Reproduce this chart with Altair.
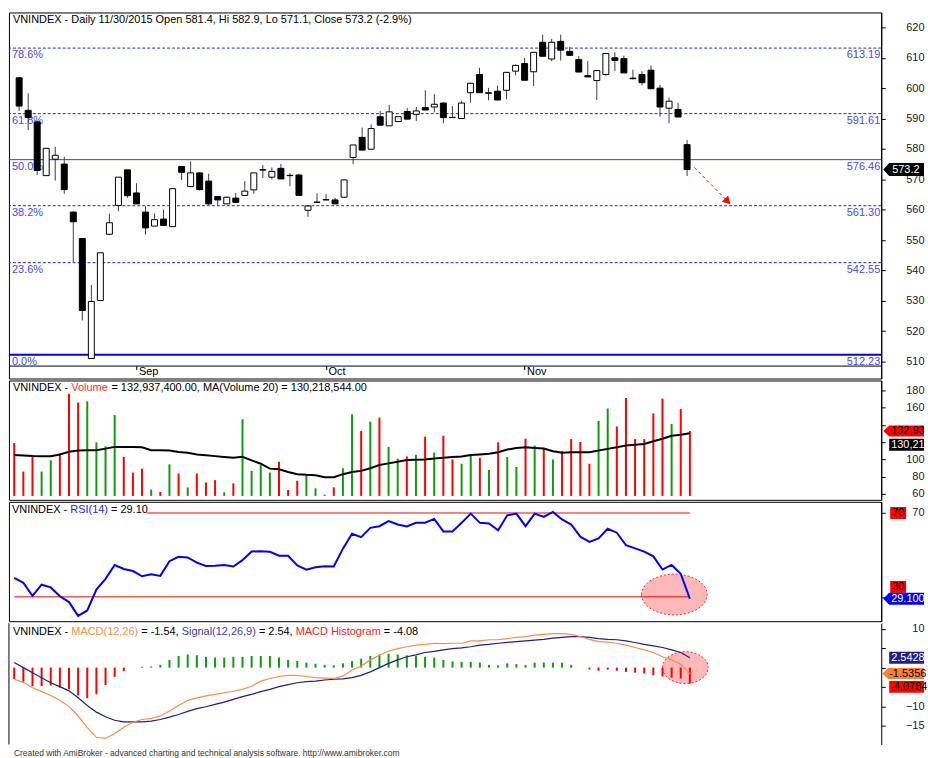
import altair as alt
import pandas as pd

FONT = "Liberation Sans"

# ---------------- data ----------------
opens = [603.4, 592.7, 588.9, 571.2, 576.6, 575.0, 559.2, 550.5, 511.0, 530.1,
         551.9, 561.4, 573.1, 565.5, 559.2, 554.6, 556.9, 554.4, 574.2, 567.6,
         572.1, 569.4, 564.3, 561.9, 563.8, 564.7, 566.5, 573.0, 570.7, 573.6,
         571.3, 571.4, 559.8, 562.4, 563.2, 563.2, 564.1, 577.2, 583.8, 579.9,
         590.6, 587.6, 589.0, 592.3, 591.4, 593.6, 593.8, 595.1, 590.4, 590.0,
         598.5, 604.5, 598.3, 599.0, 599.3, 605.6, 608.1, 605.4, 615.1, 609.6,
         615.4, 612.1, 609.4, 604.1, 602.5, 604.5, 610.0, 609.7, 603.3, 604.5,
         605.9, 600.0, 593.4, 593.0, 581.4]
highs = [603.6, 598.3, 589.2, 580.2, 580.7, 577.4, 559.4, 550.6, 535.2, 545.8,
         558.7, 570.7, 573.1, 568.7, 561.1, 558.7, 560.0, 566.9, 574.4, 575.9,
         572.3, 571.8, 564.5, 564.3, 565.5, 569.4, 572.1, 574.7, 573.9, 575.0,
         572.0, 571.8, 561.2, 565.4, 565.2, 563.9, 569.8, 581.3, 587.0, 588.1,
         592.5, 594.5, 590.6, 593.4, 593.8, 599.3, 598.0, 595.3, 594.1, 595.8,
         601.8, 606.7, 600.1, 600.9, 605.2, 607.8, 610.0, 611.8, 617.6, 616.2,
         617.6, 613.6, 610.5, 608.9, 605.8, 611.6, 611.8, 610.7, 606.1, 605.6,
         607.5, 601.1, 596.9, 595.2, 582.9]
lows = [592.5, 586.2, 571.4, 571.2, 569.6, 565.2, 542.8, 523.5, 510.9, 530.1,
        551.6, 559.5, 563.9, 561.9, 551.8, 554.6, 554.8, 554.4, 569.8, 567.4,
        566.3, 561.6, 561.3, 561.9, 562.4, 564.7, 565.2, 570.4, 569.9, 570.1,
        567.7, 564.7, 557.6, 562.3, 563.1, 561.9, 563.9, 575.0, 579.6, 579.9,
        587.8, 587.6, 589.0, 589.8, 589.2, 592.8, 592.0, 588.4, 590.2, 590.0,
        595.2, 598.5, 596.0, 596.1, 596.3, 604.2, 602.5, 600.7, 610.5, 608.8,
        609.1, 610.8, 605.3, 603.6, 596.1, 604.0, 605.6, 605.0, 602.9, 600.9,
        599.8, 590.6, 588.4, 590.5, 571.1]
closes = [594.1, 590.3, 572.9, 580.2, 577.9, 566.6, 556.0, 526.8, 529.8, 545.8,
          555.7, 570.7, 564.6, 561.9, 554.0, 556.7, 554.8, 566.9, 572.3, 572.1,
          566.6, 561.9, 563.2, 564.1, 562.4, 566.1, 572.1, 573.2, 572.6, 570.1,
          571.2, 564.7, 561.2, 562.5, 563.3, 561.9, 569.8, 581.3, 579.6, 586.7,
          587.8, 592.2, 590.6, 589.8, 592.5, 592.8, 594.7, 590.3, 590.3, 595.1,
          601.6, 598.5, 598.5, 596.1, 605.2, 607.5, 602.6, 611.8, 610.5, 615.1,
          612.5, 610.8, 605.3, 603.7, 605.8, 611.4, 609.1, 605.0, 603.1, 601.8,
          599.8, 593.8, 595.7, 590.5, 573.2]
volume_m = [119.0, 85.9, 104.6, 85.9, 98.9, 106.9, 176.2, 165.9, 167.4, 119.8,
            115.2, 151.4, 103.0, 84.8, 89.3, 65.0, 62.3, 94.3, 83.6, 67.6,
            83.6, 73.3, 76.0, 61.9, 72.2, 146.5, 86.7, 93.5, 84.8, 97.3,
            64.6, 75.2, 81.7, 66.5, 59.2, 67.6, 89.7, 152.2, 133.1, 143.8,
            148.4, 114.5, 100.8, 103.4, 105.3, 126.3, 108.0, 127.4, 100.0, 95.0,
            104.6, 101.9, 87.8, 119.8, 102.7, 91.2, 124.0, 116.0, 113.3, 100.0,
            109.5, 123.6, 120.2, 95.0, 144.6, 159.0, 138.1, 171.2, 123.6, 123.6,
            153.3, 170.5, 141.1, 158.3, 132.9374]
vol_ma20 = [105.0, 104.5, 104.0, 103.8, 103.8, 105.7, 108.8, 110.3, 110.5, 110.7,
            112.5, 114.5, 114.5, 114.3, 114.1, 110.7, 110.5, 110.3, 108.5, 107.6,
            105.7, 104.8, 103.8, 102.8, 101.9, 103.0, 98.9, 95.0, 89.3, 88.6,
            85.5, 82.9, 82.1, 81.7, 79.4, 79.4, 82.9, 85.5, 86.7, 89.7,
            93.5, 95.4, 97.3, 99.2, 99.6, 100.0, 101.1, 101.9, 102.7, 103.4,
            105.0, 105.7, 106.5, 108.4, 111.4, 113.3, 114.1, 113.3, 112.6, 109.5,
            107.6, 108.4, 108.4, 108.4, 110.3, 112.2, 114.1, 116.0, 117.1, 117.9,
            121.0, 124.0, 127.4, 128.6, 130.2185]
rsi14 = [39.1, 36.7, 30.5, 35.8, 34.5, 30.3, 27.5, 20.9, 23.5, 33.5,
         38.6, 45.2, 43.3, 42.3, 39.8, 40.8, 40.0, 47.0, 49.1, 48.8,
         46.3, 44.7, 44.8, 45.2, 44.5, 47.5, 51.6, 51.8, 51.5, 49.6,
         49.6, 45.0, 43.0, 44.1, 44.6, 44.5, 53.0, 60.1, 58.5, 62.9,
         63.7, 66.1, 64.5, 63.6, 65.3, 65.4, 67.2, 61.2, 61.2, 65.3,
         69.7, 65.3, 65.0, 61.8, 68.9, 69.7, 63.7, 69.7, 68.1, 70.5,
         66.9, 64.5, 58.7, 56.2, 57.9, 62.5, 60.6, 54.6, 53.1, 51.6,
         49.3, 43.0, 45.2, 41.0, 29.10]
macd_line = [-3.0, -3.8, -5.2, -6.2, -7.2, -8.4, -10.0, -12.5, -15.5, -18.0,
             -18.3, -17.0, -15.4, -14.1, -13.4, -13.1, -12.5, -11.2, -9.8, -8.5,
             -7.8, -7.3, -6.9, -6.5, -6.1, -5.6, -4.8, -3.5, -2.8, -2.3,
             -2.0, -2.0, -2.3, -2.6, -2.7, -2.8, -2.2, -0.6, 0.4, 2.0,
             3.2, 4.3, 4.9, 5.4, 5.8, 6.0, 6.3, 6.2, 6.3, 6.3,
             6.9, 6.9, 7.2, 7.2, 7.5, 7.8, 8.0, 8.4, 8.6, 8.8,
             8.8, 8.6, 8.0, 7.3, 6.7, 6.6, 6.3, 5.8, 5.2, 4.6,
             3.9, 2.8, 2.0, 0.9, -1.5356]
macd_signal = [1.3, 0.0, -1.3, -2.6, -3.9, -4.9, -6.0, -7.8, -9.8, -11.5,
               -12.7, -13.6, -14.0, -14.0, -14.0, -13.8, -13.4, -12.8, -12.1, -11.3,
               -10.6, -10.1, -9.5, -8.9, -8.2, -7.5, -6.9, -6.2, -5.6, -4.9,
               -4.4, -3.9, -3.6, -3.5, -3.2, -3.0, -2.9, -2.6, -2.0, -1.1,
               0.0, 1.1, 2.0, 2.8, 3.3, 3.9, 4.2, 4.6, 4.9, 5.1,
               5.4, 5.8, 6.0, 6.3, 6.5, 6.7, 6.9, 7.1, 7.3, 7.6,
               7.8, 8.0, 8.0, 7.8, 7.5, 7.3, 7.2, 6.9, 6.5, 6.0,
               5.6, 5.2, 4.6, 3.9, 2.5428]
macd_hist = [-3.0, -3.7, -4.8, -4.8, -4.6, -5.2, -5.6, -7.2, -7.9, -6.9,
             -4.5, -2.4, -0.9, 0.0, 0.2, 0.3, 0.7, 2.0, 3.0, 3.4,
             3.2, 2.8, 2.6, 2.6, 2.8, 2.8, 3.0, 3.0, 3.0, 2.6,
             2.0, 1.7, 1.3, 1.0, 0.7, 0.6, 1.1, 1.7, 2.3, 3.0,
             3.4, 3.6, 3.4, 3.2, 3.0, 2.8, 2.6, 2.0, 1.6, 1.5,
             1.5, 1.3, 0.7, 0.6, 1.1, 0.9, 0.7, 1.3, 1.3, 1.3,
             1.3, 0.7, 0.0, -0.5, -0.8, -0.5, -0.8, -1.1, -1.3, -1.5,
             -2.0, -2.3, -2.6, -2.8, -4.0784]

last_volume = 132937400.00
last_ma20 = 130218544.00

month_idx = [13, 34, 56]
month_names = ["Sep", "Oct", "Nov"]

fib_pct = ["0.0%", "23.6%", "38.2%", "50.0%", "61.8%", "78.6%"]
fib_val = [512.23, 542.55, 561.30, 576.46, 591.61, 613.19]
fib_dashed = ["23.6%", "38.2%", "61.8%", "78.6%"]

arrow_x = [74.8, 78.5]
arrow_y = [573.9, 562.7]

rsi_levels = [70, 30]
rsi_level_from = [14.5, 0]
rsi_level_to = [74, 74]

rsi_mark = (72.3, 31.1)
macd_mark = (73.5, 0.0)

price_ticks = [510, 520, 530, 540, 550, 560, 570, 580, 590, 600, 610, 620]
vol_ticks = [60, 80, 100, 120, 140, 160, 180]
macd_ticks = [-15, -10, -5, 0, 5, 10]

# tick labels that sit under the value tags in the original
vol_hidden = [120, 140]
rsi_hidden = [30]
macd_hidden = [-5, 0, 5]

footer = ("Created with AmiBroker - advanced charting and technical analysis "
          "software. http://www.amibroker.com")

# ---------------- helpers ----------------
AW = {' ': 278, '%': 889, '(': 333, ')': 333, ',': 278, '-': 333, '.': 278,
      '/': 278, ':': 278, '=': 584,
      'A': 667, 'B': 667, 'C': 722, 'D': 722, 'E': 667, 'G': 778, 'H': 722,
      'I': 278, 'L': 556, 'M': 833, 'N': 722, 'O': 778, 'R': 722, 'S': 667,
      'V': 667, 'X': 667,
      'a': 556, 'b': 556, 'c': 500, 'd': 556, 'e': 556, 'f': 278, 'g': 556,
      'h': 556, 'i': 222, 'k': 500, 'l': 222, 'm': 833, 'n': 556, 'o': 556,
      'p': 556, 'r': 333, 's': 500, 't': 278, 'u': 556, 'v': 500, 'w': 722,
      'y': 500}


def tw(s, fs=11):
    return sum(AW.get(ch, 556) for ch in s) * fs / 1000.0


W = 877
xs = alt.Scale(domain=[-0.577, 94.96], nice=False, zero=False)


def xnone():
    return alt.X('i:Q', scale=xs, axis=None)


def yaxis(values, hidden=()):
    kw = {}
    if hidden:
        kw['labelExpr'] = "indexof([" + ",".join(str(h) for h in hidden) + "], datum.value) >= 0 ? '' : datum.label"
    return alt.Axis(orient='right', values=values, tickSize=4, tickColor='black',
                    domainColor='black', labelPadding=39, labelAlign='right',
                    labelBaseline='middle', labelFont=FONT, labelFontSize=11,
                    labelColor='#222222', labelOverlap=False, labelFlush=False,
                    grid=False, title=None, **kw)


def texts(segments, x0, y, fs=11):
    layers = []
    x = x0
    for txt, col in segments:
        lead = len(txt) - len(txt.lstrip(' '))
        core = txt.strip(' ')
        layers.append(
            alt.Chart(pd.DataFrame({'t': [core]}))
            .mark_text(align='left', baseline='middle', font=FONT, fontSize=fs, color=col)
            .encode(x=alt.value(round(x + tw(' ' * lead, fs), 2)), y=alt.value(y), text='t:N'))
        x += tw(txt, fs)
    return layers


def tag(scale, ax, value, text, fill, tcolor, x_left, x_right, h, text_x, arrow=False, yoff=0):
    w = x_right - x_left
    half = w / 2.0
    a = (h / 2.0) / half
    if arrow:
        t = 6.0 / half
        path = f"M-1,0L{-1 + t:.4f},{-a:.4f}L1,{-a:.4f}L1,{a:.4f}L{-1 + t:.4f},{a:.4f}Z"
    else:
        path = f"M-1,{-a:.4f}L1,{-a:.4f}L1,{a:.4f}L-1,{a:.4f}Z"
    d = pd.DataFrame({'v': [value], 't': [text]})
    b = alt.Chart(d)
    box = b.mark_point(shape=path, size=w * w, filled=True, color=fill, opacity=1,
                       strokeOpacity=0, yOffset=yoff).encode(
        x=alt.value(x_left + half), y=alt.Y('v:Q', scale=scale, axis=ax))
    txt = b.mark_text(align='left', baseline='middle', font=FONT, fontSize=11, color=tcolor,
                      limit=x_right - text_x + 4, ellipsis='\u200a', yOffset=yoff).encode(
        x=alt.value(text_x), y=alt.Y('v:Q', scale=scale, axis=ax), text='t:N')
    return [box, txt]


def ellipse(pos, w_px, h_px, scale, ax):
    b = h_px / w_px
    path = f"M-1,0A1,{b:.3f},0,1,1,1,0A1,{b:.3f},0,1,1,-1,0Z"
    d = pd.DataFrame({'x': [pos[0]], 'v': [pos[1]]})
    return alt.Chart(d).mark_point(shape=path, size=w_px * w_px, filled=True, fill='#fdb8b8',
                                   stroke='#ff2a2a', strokeWidth=1, strokeDash=[2, 2],
                                   opacity=1, strokeOpacity=1).encode(
        x=alt.X('x:Q', scale=xs, axis=None), y=alt.Y('v:Q', scale=scale, axis=ax))


# ---------------- main table ----------------
df = pd.DataFrame({'i': list(range(len(closes))), 'o': opens, 'h': highs, 'l': lows,
                   'c': closes, 'v': volume_m, 'ma': vol_ma20, 'rsi': rsi14,
                   'macd': macd_line, 'sig': macd_signal, 'hist': macd_hist})
df['body'] = ['white' if c >= o else 'black' for o, c in zip(opens, closes)]
df['vcol'] = ['#109a10' if c >= o else '#ff0000' for o, c in zip(opens, closes)]
df['hcol'] = ['#109a10' if hv >= 0 else '#ff0000' for hv in macd_hist]
base = alt.Chart(df)

# ---------------- price panel ----------------
ys_p = alt.Scale(domain=[504.414, 624.912], nice=False, zero=False)
ax_p = yaxis(price_ticks)
month_expr = " : ".join(f"datum.value == {m} ? '{n}'" for m, n in zip(month_idx, month_names)) + " : ''"
x_axis_p = alt.Axis(orient='bottom', values=month_idx, labelExpr=month_expr, offset=-13,
                    tickSize=4, tickColor='black', domainColor='black', labelAlign='left',
                    labelBaseline='middle', labelPadding=1.5, labelOffset=2, labelFont=FONT,
                    labelFontSize=11, labelColor='black', labelOverlap=False,
                    labelFlush=False, grid=False, title=None)


def xp(f):
    return alt.X(f, scale=xs, axis=x_axis_p)


fib = pd.DataFrame({'p': fib_pct, 'v': fib_val, 'lbl': [f"{v:.2f}" for v in fib_val]})
fb = alt.Chart(fib)
fib_dash = fb.transform_filter(alt.FieldOneOfPredicate(field='p', oneOf=fib_dashed)).mark_rule(
    color='#1f1fff', strokeWidth=1, strokeDash=[3, 2]).encode(y=alt.Y('v:Q', scale=ys_p, axis=ax_p))
fib_mid = fb.transform_filter(alt.datum.p == fib_pct[3]).mark_rule(
    color='#3434ff', strokeWidth=1).encode(y=alt.Y('v:Q', scale=ys_p, axis=ax_p))
fib_zero = fb.transform_filter(alt.datum.p == fib_pct[0]).mark_rule(
    color='#0000ee', strokeWidth=2).encode(y=alt.Y('v:Q', scale=ys_p, axis=ax_p))
fib_l = fb.mark_text(align='left', baseline='middle', dy=7, font=FONT, fontSize=11,
                     color='#4646ff').encode(x=alt.value(3), y=alt.Y('v:Q', scale=ys_p, axis=ax_p), text='p:N')
fib_r = fb.mark_text(align='right', baseline='middle', dy=7, font=FONT, fontSize=11,
                     color='#4646ff').encode(x=alt.value(876), y=alt.Y('v:Q', scale=ys_p, axis=ax_p), text='lbl:N')

wicks = base.mark_rule(color='#3c3c3c', strokeWidth=1).encode(
    x=xp('i:Q'), y=alt.Y('l:Q', scale=ys_p, axis=ax_p), y2='h:Q')
bodies = base.mark_bar(size=6, stroke='black', strokeWidth=1).encode(
    x=xp('i:Q'), y=alt.Y('o:Q', scale=ys_p, axis=ax_p), y2='c:Q', fill=alt.Fill('body:N', scale=None))

arr = pd.DataFrame({'x0': [arrow_x[0]], 'x1': [arrow_x[1]], 'y0': [arrow_y[0]], 'y1': [arrow_y[1]]})
arr_line = alt.Chart(arr).mark_rule(color='#ff0000', strokeWidth=1, strokeDash=[3, 3]).encode(
    x=xp('x0:Q'), x2='x1:Q', y=alt.Y('y0:Q', scale=ys_p, axis=ax_p), y2='y1:Q')
arr_head = alt.Chart(arr).mark_point(shape='triangle-up', angle=136, size=80, filled=True,
                                     color='#ff0000', opacity=1).encode(
    x=xp('x1:Q'), y=alt.Y('y1:Q', scale=ys_p, axis=ax_p))

chg = (closes[-1] / closes[-2] - 1) * 100
price_title = (f"VNINDEX - Daily 11/30/2015 Open {opens[-1]:.1f}, Hi {highs[-1]:.1f}, "
               f"Lo {lows[-1]:.1f}, Close {closes[-1]:.1f} ({chg:.1f}%)")

price = alt.layer(
    fib_dash, fib_mid, fib_zero, fib_l, fib_r, wicks, bodies, arr_line, arr_head,
    *texts([(price_title, 'black')], 4, 7.5),
    *tag(ys_p, ax_p, closes[-1], f"{closes[-1]:.1f}", 'black', 'white', 879, 920, 13, 888, arrow=True),
).properties(width=W, height=368)

# ---------------- volume panel ----------------
ys_v = alt.Scale(domain=[53.14, 191.43], nice=False, zero=False)
ax_v = yaxis(vol_ticks, vol_hidden)
vbars = base.mark_rule(strokeWidth=2).encode(
    x=xnone(), y=alt.Y('v:Q', scale=ys_v, axis=ax_v), y2=alt.datum(57.7),
    color=alt.Color('vcol:N', scale=None))
maline = base.mark_line(color='black', strokeWidth=2).encode(
    x=xnone(), y=alt.Y('ma:Q', scale=ys_v, axis=ax_v))
vol_title = [("VNINDEX - ", 'black'), ("Volume", '#ff2a2a'),
             (f" = {last_volume:,.2f}, MA(Volume 20) = {last_ma20:,.2f}", 'black')]
volume = alt.layer(
    vbars, maline, *texts(vol_title, 4, 7.5),
    *tag(ys_v, ax_v, volume_m[-1], f"{last_volume:,.2f}", '#ff0000', 'black', 879, 920, 11, 887, arrow=True),
    *tag(ys_v, ax_v, vol_ma20[-1], f"{last_ma20:,.2f}", 'black', 'white', 885, 920, 12, 887, yoff=11.5),
).properties(width=W, height=120)

# ---------------- RSI panel ----------------
ys_r = alt.Scale(domain=[18.38, 75.32], nice=False, zero=False)
ax_r = yaxis(rsi_levels, rsi_hidden)
lv = pd.DataFrame({'lvl': rsi_levels, 'x0': rsi_level_from, 'x1': rsi_level_to})
lvl_rules = alt.Chart(lv).mark_rule(color='#ff0000', strokeWidth=1).encode(
    x=alt.X('x0:Q', scale=xs, axis=None), x2='x1:Q',
    y=alt.Y('lvl:Q', scale=ys_r, axis=ax_r))
rsi_line = base.mark_line(color='#0000ff', strokeWidth=2).encode(
    x=xnone(), y=alt.Y('rsi:Q', scale=ys_r, axis=ax_r))
rsi_title = [("VNINDEX - ", 'black'), ("RSI(14)", '#2020ff'), (f" = {rsi14[-1]:.2f}", 'black')]
rsi = alt.layer(
    ellipse(rsi_mark, 66, 41, ys_r, ax_r), lvl_rules, rsi_line, *texts(rsi_title, 3, 8),
    *tag(ys_r, ax_r, rsi_levels[0], str(rsi_levels[0]), '#ff0000', 'black', 886, 902, 12, 888),
    *tag(ys_r, ax_r, rsi_levels[1], str(rsi_levels[1]), '#ff0000', 'black', 886, 902, 12, 888, yoff=-10),
    *tag(ys_r, ax_r, rsi14[-1], f"{rsi14[-1]:.3f}", '#0000ff', 'white', 879, 920, 12, 887, arrow=True),
).properties(width=W, height=120)

# ---------------- MACD panel ----------------
ys_m = alt.Scale(domain=[-19.87, 11.48], nice=False, zero=False)
ax_m = yaxis(macd_ticks, macd_hidden)
hist = base.mark_rule(strokeWidth=2).encode(
    x=xnone(), y=alt.Y('hist:Q', scale=ys_m, axis=ax_m), y2=alt.datum(0),
    color=alt.Color('hcol:N', scale=None))
sig_line = base.mark_line(color='#1e1e8c', strokeWidth=1.2).encode(
    x=xnone(), y=alt.Y('sig:Q', scale=ys_m, axis=ax_m))
macd_l = base.mark_line(color='#ff8a4a', strokeWidth=1.2).encode(
    x=xnone(), y=alt.Y('macd:Q', scale=ys_m, axis=ax_m))
left_border = alt.Chart(pd.DataFrame({'a': [0]})).mark_rule(color='black', strokeWidth=1).encode(
    x=alt.value(0), y=alt.value(0), y2=alt.value(122))
macd_title = [("VNINDEX - ", 'black'), ("MACD(12,26)", '#ff8a4a'),
              (f" = {macd_line[-1]:.2f}, ", 'black'), ("Signal(12,26,9)", '#3d3d9e'),
              (f" = {macd_signal[-1]:.2f}, ", 'black'), ("MACD Histogram", '#ff2020'),
              (f" = {macd_hist[-1]:.2f}", 'black')]
macd = alt.layer(
    ellipse(macd_mark, 46, 32, ys_m, ax_m), hist, sig_line, macd_l, left_border,
    *texts(macd_title, 4, 8.5),
    *texts([(footer, '#333333')], 5, 131, fs=8.5),
    *tag(ys_m, ax_m, macd_signal[-1], f"{macd_signal[-1]:.4f}", '#1e1e8c', 'white', 885, 920, 12, 887),
    *tag(ys_m, ax_m, macd_line[-1], f"{macd_line[-1]:.4f}", '#ff8030', 'black', 878, 920, 11, 885, arrow=True),
    *tag(ys_m, ax_m, macd_hist[-1], f"{macd_hist[-1]:.4f}", '#ff0000', 'black', 885, 920, 12, 886, yoff=3.5),
).properties(width=W, height=122, view=alt.ViewBackground(strokeOpacity=0))

chart = alt.vconcat(price, volume, rsi, macd, spacing=0).properties(
    padding={'left': 7, 'top': 9.5, 'right': 0, 'bottom': 0}
).configure(background='white').configure_view(stroke='black', strokeWidth=1)

chart.save("out.html", embed_options={"renderer": "svg", "actions": False})
